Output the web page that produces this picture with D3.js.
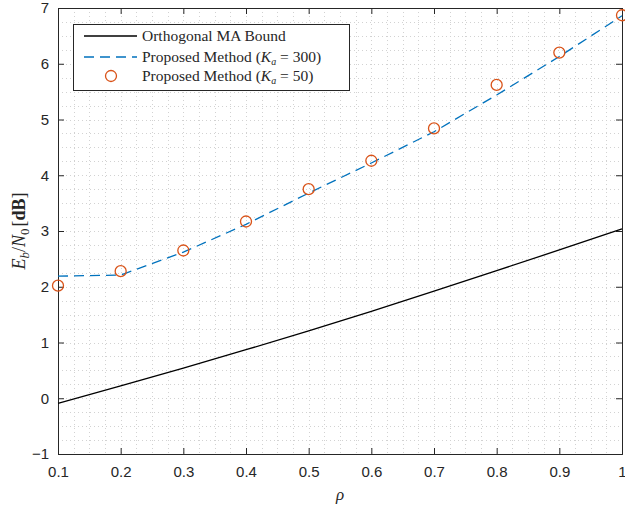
<!DOCTYPE html>
<html>
<head>
<meta charset="utf-8">
<script src="https://cdnjs.cloudflare.com/ajax/libs/d3/7.8.5/d3.min.js"></script>
<style>
body{margin:0;background:#fff;}
.tick text{font-family:"Liberation Sans",Arial,sans-serif;font-size:15px;fill:#262626;}
.leg{font-family:"Liberation Serif","DejaVu Serif",serif;font-size:15.5px;fill:#262626;}
</style>
</head>
<body>
<script>
// data
var rho = [0.1,0.2,0.3,0.4,0.5,0.6,0.7,0.8,0.9,1.0];
var orthBound = [-0.09,0.22,0.54,0.87,1.21,1.56,1.92,2.29,2.66,3.04];
var propKa300 = [2.19,2.21,2.62,3.12,3.68,4.22,4.78,5.44,6.13,6.86];
var propKa50 = [2.02,2.28,2.65,3.17,3.75,4.26,4.84,5.62,6.20,6.87];
var xTicks = [0.1,0.2,0.3,0.4,0.5,0.6,0.7,0.8,0.9,1];
var yTicks = [-1,0,1,2,3,4,5,6,7];

var width=625,height=508;
var mLeft=58,mRight=622,mTop=8,mBottom=454;

var svg = d3.select("body").append("svg")
	.attr("width", width)
	.attr("height", height);

var x = d3.scaleLinear().domain([0.1,1]).range([mLeft,mRight]);
var y = d3.scaleLinear().domain([-1,7]).range([mBottom,mTop]);

// minor + major grid, dotted
var grid = svg.append("g").attr("stroke","#d2d2d2").attr("stroke-width",1).attr("stroke-dasharray","1,3");
var xMinor = d3.range(0.1,1.0001,0.025);
var yMinor = d3.range(-1,7.0001,0.25);
grid.selectAll(".vx").data(xMinor).enter().append("line")
	.attr("x1", function(d){return Math.round(x(d))+0.5;}).attr("x2", function(d){return Math.round(x(d))+0.5;})
	.attr("y1", mTop).attr("y2", mBottom);
grid.selectAll(".hy").data(yMinor).enter().append("line")
	.attr("y1", function(d){return Math.round(y(d))+0.5;}).attr("y2", function(d){return Math.round(y(d))+0.5;})
	.attr("x1", mLeft).attr("x2", mRight);

// axes with inward ticks
var ax = svg.append("g");
ax.append("g").attr("transform","translate(0,"+mBottom+")")
	.call(d3.axisBottom(x).tickValues(xTicks).tickSize(-6).tickPadding(12).tickFormat(d3.format("")));
ax.append("g").attr("transform","translate("+mLeft+",0)")
	.call(d3.axisLeft(y).tickValues(yTicks).tickSize(-6).tickPadding(9).tickFormat(d3.format("")));
ax.append("g").attr("transform","translate(0,"+mTop+")")
	.call(d3.axisTop(x).tickValues(xTicks).tickSize(-6).tickFormat(""));
ax.append("g").attr("transform","translate("+mRight+",0)")
	.call(d3.axisRight(y).tickValues(yTicks).tickSize(-6).tickFormat(""));
ax.selectAll(".domain").attr("stroke","#262626");
ax.selectAll(".tick line").attr("stroke","#262626");

var line = d3.line().x(function(d){return x(d[0]);}).y(function(d){return y(d[1]);});

svg.append("path").datum(d3.zip(rho,orthBound))
	.attr("d", line).attr("fill","none").attr("stroke","#000").attr("stroke-width",1.3);
svg.append("path").datum(d3.zip(rho,propKa300))
	.attr("d", line).attr("fill","none").attr("stroke","#0072BD").attr("stroke-width",1.3)
	.attr("stroke-dasharray","10,6");
svg.append("g").selectAll("circle").data(d3.zip(rho,propKa50)).enter().append("circle")
	.attr("cx", function(d){return x(d[0]);}).attr("cy", function(d){return y(d[1]);})
	.attr("r", 5.5).attr("fill","none").attr("stroke","#D95319").attr("stroke-width",1.3);

// axis labels
svg.append("text").attr("x", (mLeft+mRight)/2).attr("y", 500).attr("text-anchor","middle")
	.attr("font-family","Liberation Serif,serif").attr("font-style","italic").attr("font-size",17)
	.attr("fill","#262626").text("ρ");
var yl = svg.append("text").attr("transform","translate(25,"+((mTop+mBottom)/2)+") rotate(-90)")
	.attr("text-anchor","middle").attr("font-family","Liberation Serif,serif").attr("font-size",18).attr("fill","#262626");
yl.append("tspan").attr("font-style","italic").text("E");
yl.append("tspan").attr("font-style","italic").attr("font-size",13).attr("dy",4).text("b");
yl.append("tspan").attr("dy",-4).text("/");
yl.append("tspan").attr("font-style","italic").text("N");
yl.append("tspan").attr("font-size",13).attr("dy",4).text("0");
yl.append("tspan").attr("dy",-4).attr("dx",2).text("[");
yl.append("tspan").attr("font-weight","bold").text("dB");
yl.append("tspan").text("]");

// legend
var lg = svg.append("g");
lg.append("rect").attr("x",73.5).attr("y",24.5).attr("width",276).attr("height",66)
	.attr("fill","#fff").attr("stroke","#262626").attr("stroke-width",1);
var rows = [36,57,76];
lg.append("line").attr("x1",84).attr("x2",137).attr("y1",rows[0]).attr("y2",rows[0]).attr("stroke","#000").attr("stroke-width",1.3);
lg.append("line").attr("x1",84).attr("x2",137).attr("y1",rows[1]).attr("y2",rows[1]).attr("stroke","#0072BD").attr("stroke-width",1.3).attr("stroke-dasharray","10,6");
lg.append("circle").attr("cx",111).attr("cy",rows[2]).attr("r",5.5).attr("fill","none").attr("stroke","#D95319").attr("stroke-width",1.3);
lg.append("text").attr("class","leg").attr("x",142).attr("y",rows[0]+5).text("Orthogonal MA Bound");
var t2 = lg.append("text").attr("class","leg").attr("x",142).attr("y",rows[1]+5);
t2.append("tspan").text("Proposed Method (");
t2.append("tspan").attr("font-style","italic").text("K");
t2.append("tspan").attr("font-style","italic").attr("font-size",10).attr("dy",3).text("a");
t2.append("tspan").attr("dy",-3).text(" = 300)");
var t3 = lg.append("text").attr("class","leg").attr("x",142).attr("y",rows[2]+5);
t3.append("tspan").text("Proposed Method (");
t3.append("tspan").attr("font-style","italic").text("K");
t3.append("tspan").attr("font-style","italic").attr("font-size",10).attr("dy",3).text("a");
t3.append("tspan").attr("dy",-3).text(" = 50)");
</script>
</body>
</html>
